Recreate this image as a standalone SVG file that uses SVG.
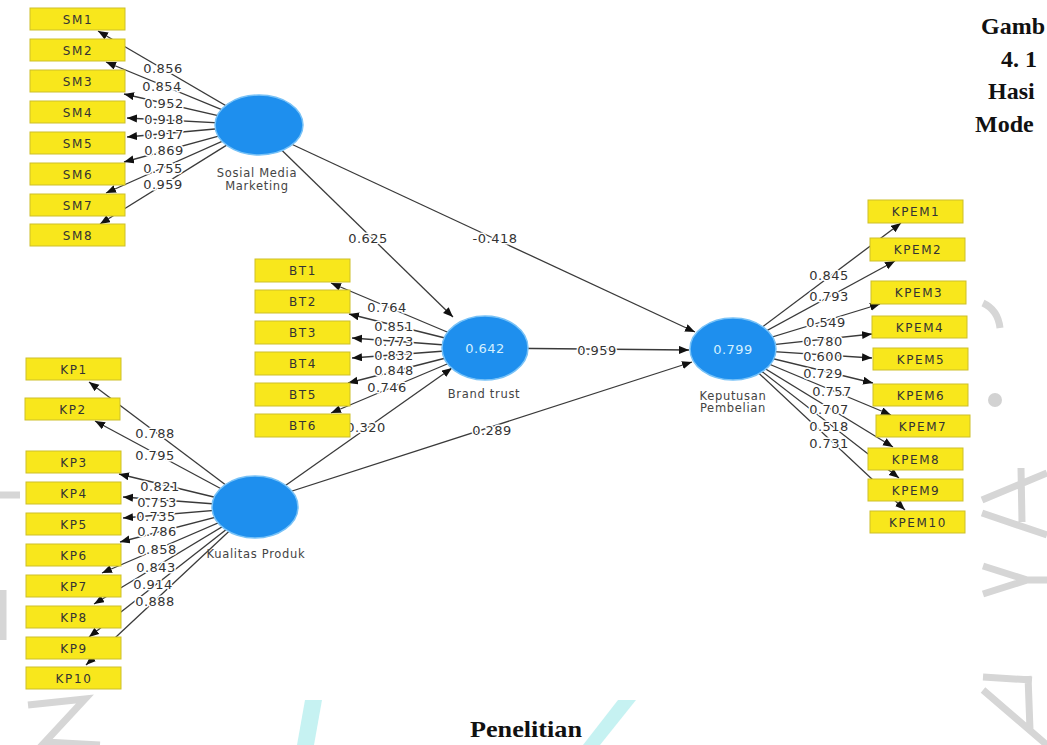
<svg xmlns="http://www.w3.org/2000/svg" width="1047" height="745" viewBox="0 0 1047 745">
<style>
.c{stroke:#3a3a3a;stroke-width:1.3;fill:none}
.lb{font-family:"DejaVu Sans",sans-serif;font-size:13px;letter-spacing:0.5px;fill:#333;text-anchor:middle;paint-order:stroke;stroke:#fff;stroke-width:3px;stroke-linejoin:round}
.bx rect{fill:#f8e71c;stroke:#cdbf2a;stroke-width:1}
.bx text{font-family:"DejaVu Sans",sans-serif;font-size:12px;letter-spacing:1.6px;fill:#333;text-anchor:middle}
.lv ellipse{fill:#1e8fee;stroke:#78c2f7;stroke-width:1.5}
.lv .v{font-family:"DejaVu Sans",sans-serif;font-size:13px;letter-spacing:0.5px;fill:#d4f0ff;text-anchor:middle}
.lv .n{font-family:"DejaVu Sans",sans-serif;font-size:11.5px;letter-spacing:0.7px;fill:#444;text-anchor:middle}
.t{font-family:"Liberation Serif","Times New Roman",serif;font-weight:bold;font-size:24px;fill:#111}
.wm{fill:none;stroke:#d6d6d6;stroke-width:7;stroke-linecap:butt}
</style>
<defs>
<marker id="ah" markerWidth="11" markerHeight="9" refX="10" refY="4" orient="auto" markerUnits="userSpaceOnUse"><path d="M0,0 L10,4 L0,8 z" fill="#111"/></marker>
</defs>
<rect width="1047" height="745" fill="#fff"/>
<g id="watermark">
<path class="wm" d="M983,303 Q998,310 1000,328"/>
<circle cx="995" cy="400" r="7" fill="#d2d2d2"/>
<path class="wm" d="M982,500 L1047,473 M1021,468 L1022,522 M982,513 L1047,535"/>
<path class="wm" d="M983,566 L1027,580 L983,594 M1027,580 L1047,580"/>
<path class="wm" d="M983,677 L1032,680 M1028,676 L1030,730 M983,690 L1047,745"/>
<path class="wm" d="M0,495 L20,495 M3,590 L3,640"/>
<path class="wm" d="M28,705 L85,699 L45,742 L100,745"/>
<polygon points="305,700 322,700 314,745 297,745" fill="#c6f2f2"/>
<polygon points="618,700 636,700 600,745 583,745" fill="#c6f2f2"/>
</g>
<g id="connectors">
<g marker-end="url(#ah)">
<line class="c" x1="259" y1="125" x2="98" y2="31"/>
<line class="c" x1="259" y1="125" x2="106" y2="62"/>
<line class="c" x1="259" y1="125" x2="124" y2="94"/>
<line class="c" x1="259" y1="125" x2="127" y2="118"/>
<line class="c" x1="259" y1="125" x2="127" y2="137"/>
<line class="c" x1="259" y1="125" x2="124" y2="162"/>
<line class="c" x1="259" y1="125" x2="106" y2="193"/>
<line class="c" x1="259" y1="125" x2="100" y2="224"/>
<line class="c" x1="485" y1="348" x2="331" y2="283"/>
<line class="c" x1="485" y1="348" x2="349" y2="314"/>
<line class="c" x1="485" y1="348" x2="352" y2="338"/>
<line class="c" x1="485" y1="348" x2="352" y2="358"/>
<line class="c" x1="485" y1="348" x2="348" y2="383"/>
<line class="c" x1="485" y1="348" x2="331" y2="413"/>
<line class="c" x1="255" y1="507" x2="89" y2="382"/>
<line class="c" x1="255" y1="507" x2="95" y2="421"/>
<line class="c" x1="255" y1="507" x2="119" y2="474"/>
<line class="c" x1="255" y1="507" x2="123" y2="497"/>
<line class="c" x1="255" y1="507" x2="123" y2="518"/>
<line class="c" x1="255" y1="507" x2="120" y2="542"/>
<line class="c" x1="255" y1="507" x2="102" y2="573"/>
<line class="c" x1="255" y1="507" x2="94" y2="604"/>
<line class="c" x1="255" y1="507" x2="89" y2="637"/>
<line class="c" x1="255" y1="507" x2="86" y2="665"/>
<line class="c" x1="733" y1="349" x2="901" y2="223"/>
<line class="c" x1="733" y1="349" x2="895" y2="261"/>
<line class="c" x1="733" y1="349" x2="880" y2="304"/>
<line class="c" x1="733" y1="349" x2="872" y2="334"/>
<line class="c" x1="733" y1="349" x2="872" y2="358"/>
<line class="c" x1="733" y1="349" x2="873" y2="383"/>
<line class="c" x1="733" y1="349" x2="891" y2="415"/>
<line class="c" x1="733" y1="349" x2="893" y2="447"/>
<line class="c" x1="733" y1="349" x2="899" y2="478"/>
<line class="c" x1="733" y1="349" x2="905" y2="510"/>
<line class="c" x1="259" y1="128" x2="453" y2="317"/>
<line class="c" x1="259" y1="129" x2="695" y2="332"/>
<line class="c" x1="485" y1="348" x2="689" y2="350"/>
<line class="c" x1="255" y1="507" x2="452" y2="368"/>
<line class="c" x1="255" y1="503" x2="692" y2="362"/>
</g>
<g>
<text class="lb" x="163" y="73">0.856</text>
<text class="lb" x="162" y="91">0.854</text>
<text class="lb" x="164" y="108">0.952</text>
<text class="lb" x="164" y="124">0.918</text>
<text class="lb" x="164" y="139">0.917</text>
<text class="lb" x="164" y="155">0.869</text>
<text class="lb" x="163" y="173">0.755</text>
<text class="lb" x="163" y="189">0.959</text>
<text class="lb" x="387" y="312">0.764</text>
<text class="lb" x="394" y="331">0.851</text>
<text class="lb" x="394" y="346">0.773</text>
<text class="lb" x="394" y="360">0.832</text>
<text class="lb" x="394" y="375">0.848</text>
<text class="lb" x="387" y="392">0.746</text>
<text class="lb" x="155" y="438">0.788</text>
<text class="lb" x="155" y="460">0.795</text>
<text class="lb" x="160" y="491">0.821</text>
<text class="lb" x="157" y="507">0.753</text>
<text class="lb" x="156" y="521">0.735</text>
<text class="lb" x="157" y="536">0.786</text>
<text class="lb" x="157" y="554">0.858</text>
<text class="lb" x="156" y="572">0.843</text>
<text class="lb" x="153" y="589">0.914</text>
<text class="lb" x="155" y="606">0.888</text>
<text class="lb" x="829" y="280">0.845</text>
<text class="lb" x="829" y="301">0.793</text>
<text class="lb" x="826" y="327">0.549</text>
<text class="lb" x="823" y="346">0.780</text>
<text class="lb" x="823" y="361">0.600</text>
<text class="lb" x="823" y="378">0.729</text>
<text class="lb" x="832" y="396">0.757</text>
<text class="lb" x="829" y="414">0.707</text>
<text class="lb" x="829" y="431">0.518</text>
<text class="lb" x="829" y="448">0.731</text>
<text class="lb" x="368" y="243">0.625</text>
<text class="lb" x="495" y="243">-0.418</text>
<text class="lb" x="597" y="355">0.959</text>
<text class="lb" x="366" y="432">0.320</text>
<text class="lb" x="492" y="435">0.289</text>
</g>
</g>
<g id="SM1" class="bx"><rect x="30" y="8" width="95" height="22"/><text x="78" y="24">SM1</text></g>
<g id="SM2" class="bx"><rect x="30" y="39" width="95" height="22"/><text x="78" y="55">SM2</text></g>
<g id="SM3" class="bx"><rect x="30" y="70" width="95" height="22"/><text x="78" y="86">SM3</text></g>
<g id="SM4" class="bx"><rect x="30" y="101" width="95" height="22"/><text x="78" y="117">SM4</text></g>
<g id="SM5" class="bx"><rect x="30" y="132" width="95" height="22"/><text x="78" y="148">SM5</text></g>
<g id="SM6" class="bx"><rect x="30" y="163" width="95" height="22"/><text x="78" y="179">SM6</text></g>
<g id="SM7" class="bx"><rect x="30" y="194" width="95" height="22"/><text x="78" y="210">SM7</text></g>
<g id="SM8" class="bx"><rect x="30" y="224" width="95" height="22"/><text x="78" y="240">SM8</text></g>
<g id="BT1" class="bx"><rect x="255" y="259" width="95" height="23"/><text x="303" y="275">BT1</text></g>
<g id="BT2" class="bx"><rect x="255" y="290" width="95" height="23"/><text x="303" y="306">BT2</text></g>
<g id="BT3" class="bx"><rect x="255" y="321" width="95" height="23"/><text x="303" y="337">BT3</text></g>
<g id="BT4" class="bx"><rect x="255" y="352" width="95" height="23"/><text x="303" y="368">BT4</text></g>
<g id="BT5" class="bx"><rect x="255" y="383" width="95" height="23"/><text x="303" y="399">BT5</text></g>
<g id="BT6" class="bx"><rect x="255" y="414" width="95" height="23"/><text x="303" y="430">BT6</text></g>
<g id="KP1" class="bx"><rect x="26" y="358" width="95" height="22"/><text x="74" y="374">KP1</text></g>
<g id="KP2" class="bx"><rect x="25" y="398" width="95" height="22"/><text x="73" y="414">KP2</text></g>
<g id="KP3" class="bx"><rect x="26" y="451" width="95" height="22"/><text x="74" y="467">KP3</text></g>
<g id="KP4" class="bx"><rect x="26" y="482" width="95" height="22"/><text x="74" y="498">KP4</text></g>
<g id="KP5" class="bx"><rect x="26" y="513" width="95" height="22"/><text x="74" y="529">KP5</text></g>
<g id="KP6" class="bx"><rect x="26" y="544" width="95" height="22"/><text x="74" y="560">KP6</text></g>
<g id="KP7" class="bx"><rect x="26" y="575" width="95" height="22"/><text x="74" y="591">KP7</text></g>
<g id="KP8" class="bx"><rect x="26" y="606" width="95" height="22"/><text x="74" y="622">KP8</text></g>
<g id="KP9" class="bx"><rect x="26" y="637" width="95" height="22"/><text x="74" y="653">KP9</text></g>
<g id="KP10" class="bx"><rect x="26" y="667" width="95" height="22"/><text x="74" y="683">KP10</text></g>
<g id="KPEM1" class="bx"><rect x="868" y="200" width="95" height="23"/><text x="916" y="216">KPEM1</text></g>
<g id="KPEM2" class="bx"><rect x="870" y="238" width="95" height="23"/><text x="918" y="254">KPEM2</text></g>
<g id="KPEM3" class="bx"><rect x="871" y="281" width="95" height="23"/><text x="919" y="297">KPEM3</text></g>
<g id="KPEM4" class="bx"><rect x="872" y="316" width="95" height="22"/><text x="920" y="332">KPEM4</text></g>
<g id="KPEM5" class="bx"><rect x="873" y="348" width="95" height="22"/><text x="921" y="364">KPEM5</text></g>
<g id="KPEM6" class="bx"><rect x="873" y="384" width="95" height="22"/><text x="921" y="400">KPEM6</text></g>
<g id="KPEM7" class="bx"><rect x="876" y="415" width="94" height="22"/><text x="923" y="431">KPEM7</text></g>
<g id="KPEM8" class="bx"><rect x="868" y="448" width="95" height="22"/><text x="916" y="464">KPEM8</text></g>
<g id="KPEM9" class="bx"><rect x="868" y="479" width="95" height="22"/><text x="916" y="495">KPEM9</text></g>
<g id="KPEM10" class="bx"><rect x="870" y="511" width="95" height="22"/><text x="918" y="527">KPEM10</text></g>
<g id="SosialMediaMarketing" class="lv"><ellipse cx="259" cy="125" rx="44" ry="30"/><text class="n" x="257" y="177">Sosial Media</text><text class="n" x="257" y="190">Marketing</text></g>
<g id="BrandTrust" class="lv"><ellipse cx="485" cy="348" rx="43" ry="32"/><text class="v" x="485" y="353">0.642</text><text class="n" x="484" y="398">Brand trust</text></g>
<g id="KualitasProduk" class="lv"><ellipse cx="255" cy="507" rx="43" ry="31"/><text class="n" x="256" y="558">Kualitas Produk</text></g>
<g id="KeputusanPembelian" class="lv"><ellipse cx="733" cy="349" rx="43" ry="31"/><text class="v" x="733" y="354">0.799</text><text class="n" x="733" y="400">Keputusan</text><text class="n" x="733" y="412">Pembelian</text></g>
<g id="caption">
<text class="t" x="981" y="34">Gamb</text>
<text class="t" x="1001" y="67">4. 1</text>
<text class="t" x="988" y="99">Hasi</text>
<text class="t" x="975" y="132">Mode</text>
<text class="t" x="470" y="737" font-size="22" textLength="112" lengthAdjust="spacingAndGlyphs">Penelitian</text>
</g>
</svg>
